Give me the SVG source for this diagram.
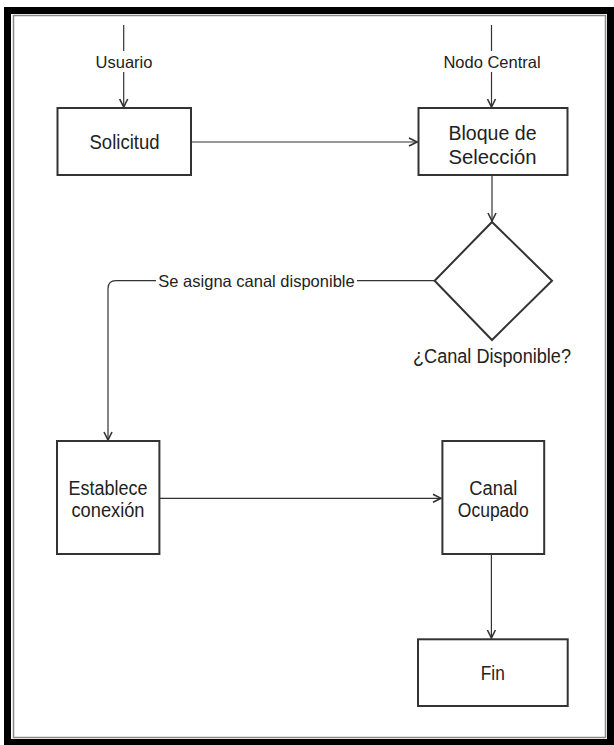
<svg xmlns="http://www.w3.org/2000/svg" width="614" height="745" viewBox="0 0 614 745">
<defs>
<style>
.box{fill:#fff;stroke:#333;stroke-width:2}
.edge{fill:none;stroke:#333;stroke-width:1.2}
.t{font-family:"Liberation Sans",Arial,sans-serif;font-size:20px;fill:#222;text-anchor:middle}
.lbl{font-family:"Liberation Sans",Arial,sans-serif;font-size:16.5px;fill:#222;text-anchor:middle}
</style>
<marker id="arr" viewBox="0 0 10 10" refX="9" refY="5" markerWidth="10" markerHeight="10" markerUnits="userSpaceOnUse" orient="auto">
<path d="M1,1 L9,5 L1,9" fill="none" stroke="#333" stroke-width="1.6"/>
</marker>
</defs>
<rect x="4" y="7" width="610" height="738" fill="#000"/>
<rect x="11" y="14" width="596" height="725" fill="#fff"/>
<rect x="13.5" y="15.5" width="592" height="722" fill="none" stroke="#8a8a8a" stroke-width="1.5"/>

<g id="connectors">
<path class="edge" d="M123.7 25 V107" marker-end="url(#arr)"/>
<path class="edge" d="M491.5 25 V107" marker-end="url(#arr)"/>
<path class="edge" d="M191 142 H417" marker-end="url(#arr)"/>
<path class="edge" d="M492 175 V221" marker-end="url(#arr)"/>
<path class="edge" d="M434.6 280.7 H116 Q108 280.7 108 288.7 V440" marker-end="url(#arr)"/>
<path class="edge" d="M159.4 498.3 H441" marker-end="url(#arr)"/>
<path class="edge" d="M491.4 554 V638" marker-end="url(#arr)"/>
<rect x="94" y="51" width="60" height="21" fill="#fff"/>
<text class="lbl" x="124" y="67.6">Usuario</text>
<rect x="444" y="51" width="96" height="21" fill="#fff"/>
<text class="lbl" x="492" y="67.6">Nodo Central</text>
<rect x="156" y="270" width="201" height="21" fill="#fff"/>
<text class="lbl" x="256.5" y="286.6">Se asigna canal disponible</text>
</g>

<g id="solicitud">
<rect class="box" x="57.5" y="108" width="133.5" height="67"/>
<text class="t" x="124.5" y="149.4" textLength="70" lengthAdjust="spacingAndGlyphs">Solicitud</text>
</g>
<g id="bloque">
<rect class="box" x="418.5" y="108" width="149" height="67"/>
<text class="t" x="492.5" y="140" textLength="88" lengthAdjust="spacingAndGlyphs">Bloque de</text>
<text class="t" x="492.5" y="163.5" textLength="88" lengthAdjust="spacingAndGlyphs">Selección</text>
</g>
<g id="decision">
<polygon class="box" points="492,222 552,280.7 492,340 434.6,280.7"/>
<text class="t" x="492" y="363" textLength="158" lengthAdjust="spacingAndGlyphs">¿Canal Disponible?</text>
</g>
<g id="establece">
<rect class="box" x="57" y="441" width="102.4" height="113"/>
<text class="t" x="108" y="494.5" textLength="79" lengthAdjust="spacingAndGlyphs">Establece</text>
<text class="t" x="108" y="517" textLength="73" lengthAdjust="spacingAndGlyphs">conexión</text>
</g>
<g id="ocupado">
<rect class="box" x="442.4" y="441" width="101.8" height="113"/>
<text class="t" x="493.3" y="494.5" textLength="48" lengthAdjust="spacingAndGlyphs">Canal</text>
<text class="t" x="493.3" y="517" textLength="71" lengthAdjust="spacingAndGlyphs">Ocupado</text>
</g>
<g id="fin">
<rect class="box" x="418" y="639.3" width="149.7" height="66.7"/>
<text class="t" x="492.8" y="680" textLength="24" lengthAdjust="spacingAndGlyphs">Fin</text>
</g>
</svg>
